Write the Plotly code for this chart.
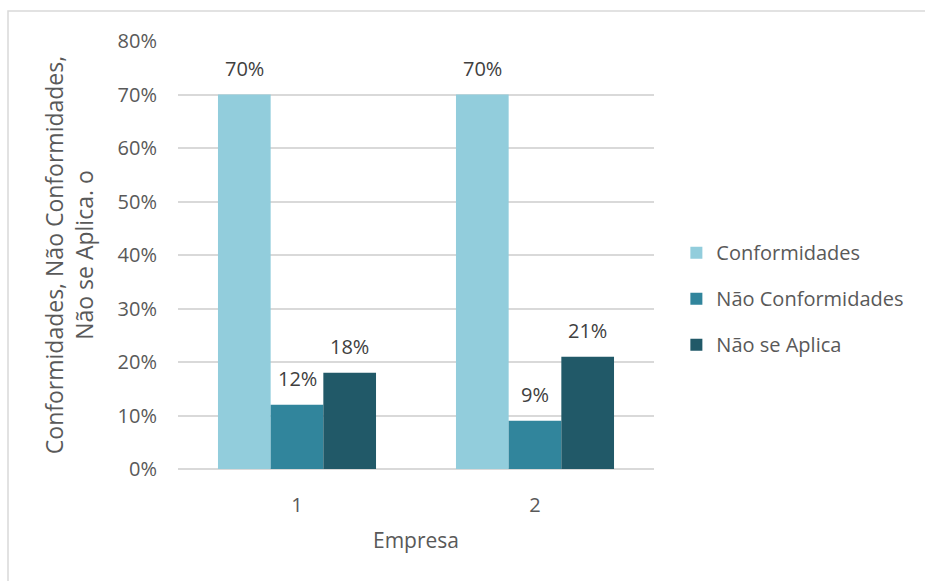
import plotly.graph_objects as go

# Data
empresas = ["1", "2"]
series_names = ["Conformidades", "Não Conformidades", "Não se Aplica"]
conformidades = [0.70, 0.70]
nao_conformidades = [0.12, 0.09]
nao_se_aplica = [0.18, 0.21]
series_values = [conformidades, nao_conformidades, nao_se_aplica]
series_colors = ["#92CDDC", "#31859C", "#215968"]

FONT = "Open Sans"
TEXT_COLOR = "#595959"
LABEL_COLOR = "#404040"
GRID = "#D9D9D9"

# Plot-area geometry (pixels)
W, H = 925, 581
ML, MR, MT, MB = 178, 271, 41, 112
PLOT_W = W - ML - MR
PLOT_H = H - MT - MB
BARGAP = 0.336
n_series = len(series_names)
cat_w = PLOT_W / len(empresas)
bar_w = cat_w * (1 - BARGAP) / n_series

fig = go.Figure()
for name, vals, color in zip(series_names, series_values, series_colors):
    fig.add_trace(go.Bar(
        x=empresas,
        y=vals,
        name=name,
        legendgroup=name,
        marker=dict(color=color, line=dict(width=0)),
    ))

# Value labels above each bar (category index positions on the x axis)
annotations = []
for i, vals in enumerate(series_values):
    dx = (i - (n_series - 1) / 2) * bar_w
    for k, v in enumerate(vals):
        annotations.append(dict(
            x=k, y=v, xref="x", yref="y",
            text=f"{v:.0%}", showarrow=False,
            xshift=dx, yshift=11, yanchor="bottom",
            font=dict(family=FONT, size=20, color=LABEL_COLOR),
        ))

fig.update_layout(
    width=W,
    height=H,
    margin=dict(l=ML, r=MR, t=MT, b=MB),
    paper_bgcolor="white",
    plot_bgcolor="white",
    barmode="group",
    bargap=BARGAP,
    bargroupgap=0,
    font=dict(family=FONT, size=20, color=TEXT_COLOR),
    annotations=annotations,
    legend=dict(
        x=1.047, y=0.398, xanchor="left", yanchor="middle",
        font=dict(family=FONT, size=20, color=TEXT_COLOR),
        tracegroupgap=17,
        itemwidth=30,
    ),
    xaxis=dict(
        type="category",
        range=[-0.5, len(empresas) - 0.5],
        showgrid=False,
        showline=False,
        ticks="",
        ticklabelstandoff=22,
        tickfont=dict(family=FONT, size=20, color=TEXT_COLOR),
        title=dict(text="Empresa", standoff=16,
                   font=dict(family=FONT, size=21, color=TEXT_COLOR)),
    ),
    yaxis=dict(
        range=[0, 0.8],
        dtick=0.1,
        tickformat=".0%",
        showgrid=True,
        gridcolor=GRID,
        gridwidth=1.5,
        zeroline=True,
        zerolinecolor=GRID,
        zerolinewidth=1.5,
        ticks="",
        ticklabelstandoff=20,
        tickfont=dict(family=FONT, size=20, color=TEXT_COLOR),
        title=dict(text="Conformidades, Não Conformidades,<br>Não se Aplica. o",
                   standoff=17,
                   font=dict(family=FONT, size=23, color=TEXT_COLOR)),
    ),
    shapes=[dict(
        type="rect", xref="paper", yref="paper",
        x0=(8 - ML) / PLOT_W, x1=(935 - ML) / PLOT_W,
        y0=(H - MB - 600) / PLOT_H, y1=(H - MB - 11) / PLOT_H,
        line=dict(color=GRID, width=1.5), fillcolor="rgba(0,0,0,0)",
        layer="below",
    )],
)

fig.write_html("out.html")
